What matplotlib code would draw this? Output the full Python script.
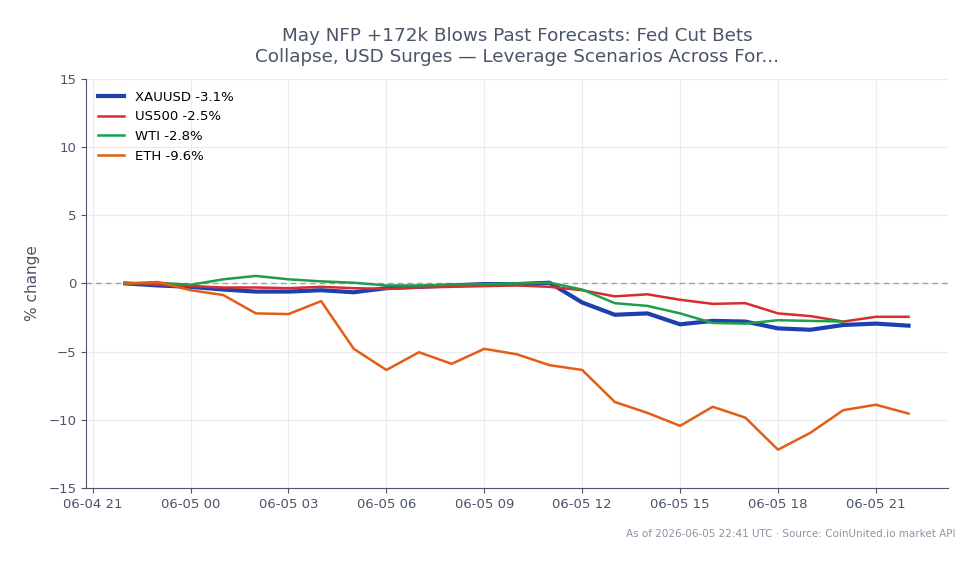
import numpy as np
import pandas as pd
import matplotlib
matplotlib.use("Agg")
import matplotlib.pyplot as plt
import matplotlib.dates as mdates

# hourly points, 06-04 22:00 to 06-05 22:00
times = pd.date_range("2026-06-04 22:00", "2026-06-05 22:00", freq="h")

xauusd = [0, -0.15, -0.25, -0.45, -0.6, -0.6, -0.5, -0.65, -0.35, -0.25, -0.15, -0.05, -0.05,
          0.05, -1.4, -2.3, -2.2, -3.0, -2.75, -2.8, -3.3, -3.4, -3.05, -2.95, -3.1]
us500 = [0, -0.1, -0.2, -0.3, -0.3, -0.35, -0.25, -0.35, -0.4, -0.3, -0.25, -0.2, -0.15,
         -0.25, -0.5, -0.95, -0.8, -1.2, -1.5, -1.45, -2.2, -2.4, -2.8, -2.45, -2.45]
wti = [0, 0.05, -0.1, 0.3, 0.55, 0.3, 0.15, 0.05, -0.15, -0.15, -0.1, -0.05, 0,
       0.05, -0.45, -1.45, -1.65, -2.2, -2.9, -2.95, -2.7, -2.75, -2.8]
eth = [0, 0.1, -0.5, -0.85, -2.2, -2.25, -1.3, -4.8, -6.35, -5.05, -5.9, -4.8, -5.2,
       -6.0, -6.35, -8.7, -9.5, -10.45, -9.05, -9.85, -12.2, -10.95, -9.3, -8.9, -9.55]

series = [
    ("XAUUSD -3.1%", xauusd, "#1e40af", 3.0),
    ("US500 -2.5%", us500, "#d62d2d", 1.8),
    ("WTI -2.8%", wti, "#1f9e4a", 1.8),
    ("ETH -9.6%", eth, "#e35d17", 1.8),
]

text_col = "#4a5568"

fig, ax = plt.subplots(figsize=(9.79, 5.64), dpi=100)
fig.subplots_adjust(left=0.088, right=0.968, top=0.86, bottom=0.135)

ax.axhline(0, color="#94a3b8", lw=1, ls=(0, (4, 3)), zorder=1)
for label, vals, color, lw in series:
    ax.plot(times[:len(vals)], vals, color=color, lw=lw, label=label, zorder=3)

ax.set_ylim(-15, 15)
ax.set_yticks([-15, -10, -5, 0, 5, 10, 15])
ax.xaxis.set_major_locator(mdates.HourLocator(byhour=[0, 3, 6, 9, 12, 15, 18, 21]))
ax.xaxis.set_major_formatter(mdates.DateFormatter("%m-%d %H"))

ax.grid(True, color="#e8ebf0", lw=0.8)
ax.set_axisbelow(True)
for s in ["top", "right"]:
    ax.spines[s].set_visible(False)
for s in ["left", "bottom"]:
    ax.spines[s].set_color("#4a5568")
ax.tick_params(colors=text_col, labelsize=9.5)
ax.tick_params(axis="both", color="#4a5568")

ax.set_ylabel("% change", color=text_col, fontsize=11, labelpad=6)
ax.set_title("May NFP +172k Blows Past Forecasts: Fed Cut Bets\n"
             "Collapse, USD Surges \u2014 Leverage Scenarios Across For...",
             color=text_col, fontsize=13.2, pad=12)

leg = ax.legend(loc="upper left", frameon=False, fontsize=9.5)

fig.text(0.976, 0.053, "As of 2026-06-05 22:41 UTC \u00b7 Source: CoinUnited.io market API",
         ha="right", va="center", fontsize=7.5, color="#8a94a3")

fig.savefig("out.png", dpi=100)
